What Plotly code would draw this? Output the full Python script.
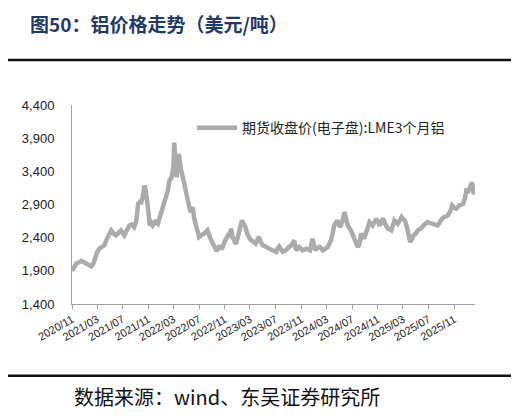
import plotly.graph_objects as go

# LME 3-month aluminium close (USD/t)
dates = [
    "2020-11-01", "2020-11-13", "2020-11-22", "2020-12-04", "2020-12-16", "2020-12-28",
    "2021-01-10", "2021-01-22", "2021-02-01", "2021-02-10", "2021-02-18", "2021-03-01",
    "2021-03-11", "2021-03-22", "2021-04-04", "2021-04-19", "2021-05-07", "2021-05-19",
    "2021-05-30", "2021-06-13", "2021-06-23", "2021-07-09", "2021-07-22", "2021-08-02",
    "2021-08-13", "2021-08-25", "2021-09-04", "2021-09-13", "2021-09-22", "2021-09-28",
    "2021-10-07", "2021-10-13", "2021-10-19", "2021-10-25", "2021-11-01", "2021-11-07",
    "2021-11-16", "2021-11-22", "2021-12-04", "2021-12-16", "2021-12-25", "2022-01-01",
    "2022-01-13", "2022-01-25", "2022-02-01", "2022-02-09", "2022-02-18", "2022-02-23",
    "2022-03-01", "2022-03-04", "2022-03-10", "2022-03-16", "2022-03-25", "2022-03-28",
    "2022-04-04", "2022-04-13", "2022-04-19", "2022-04-28", "2022-05-04", "2022-05-10",
    "2022-05-16", "2022-05-22", "2022-06-01", "2022-06-07", "2022-06-16", "2022-06-25",
    "2022-07-01", "2022-07-13", "2022-07-25", "2022-08-10", "2022-08-19", "2022-08-28",
    "2022-09-07", "2022-09-13", "2022-09-23", "2022-10-01", "2022-10-07", "2022-10-16",
    "2022-10-22", "2022-11-01", "2022-11-07", "2022-11-16", "2022-11-22", "2022-12-01",
    "2022-12-07", "2022-12-13", "2022-12-19", "2022-12-25", "2023-01-04", "2023-01-10",
    "2023-01-16", "2023-01-22", "2023-01-28", "2023-02-07", "2023-02-16", "2023-02-22",
    "2023-03-01", "2023-03-07", "2023-03-19", "2023-03-28", "2023-04-07", "2023-04-13",
    "2023-04-22", "2023-05-01", "2023-05-13", "2023-05-22", "2023-06-04", "2023-06-16",
    "2023-07-04", "2023-07-10", "2023-07-19", "2023-08-04", "2023-08-19", "2023-09-04",
    "2023-09-16", "2023-09-28", "2023-10-07", "2023-10-22", "2023-11-07", "2023-11-25",
    "2023-12-13", "2023-12-25", "2024-01-07", "2024-01-19", "2024-01-28", "2024-02-13",
    "2024-02-25", "2024-03-07", "2024-03-22", "2024-04-07", "2024-04-22", "2024-05-04",
    "2024-05-16", "2024-05-25", "2024-06-01", "2024-06-10", "2024-06-25", "2024-07-10",
    "2024-07-19", "2024-07-28", "2024-08-04", "2024-08-13", "2024-08-28", "2024-09-10",
    "2024-09-22", "2024-10-07", "2024-10-16", "2024-10-25", "2024-11-10", "2024-11-25",
    "2024-12-07", "2024-12-19", "2025-01-04", "2025-01-19", "2025-02-04", "2025-02-13",
    "2025-02-22", "2025-03-01", "2025-03-10", "2025-03-22", "2025-04-04", "2025-04-13",
    "2025-04-20", "2025-05-01", "2025-05-10", "2025-05-22", "2025-06-04", "2025-06-13",
    "2025-06-25", "2025-07-07", "2025-07-19", "2025-08-01", "2025-08-13", "2025-08-22",
    "2025-08-28", "2025-09-13", "2025-09-22", "2025-10-01", "2025-10-13", "2025-10-22",
    "2025-11-01", "2025-11-10", "2025-11-25", "2025-12-04", "2025-12-13", "2025-12-22",
    "2025-12-28", "2026-01-07", "2026-01-13", "2026-01-25", "2026-02-01", "2026-02-10",
]
prices = [
    1900, 1960, 2010, 2030, 2050, 2030,
    2010, 2000, 1970, 2000, 2085, 2180,
    2235, 2260, 2285, 2400, 2510, 2460,
    2435, 2480, 2510, 2435, 2520, 2585,
    2600, 2560, 2650, 2910, 2940, 2935,
    3050, 3185, 3120, 3010, 2800, 2585,
    2620, 2585, 2640, 2610, 2700, 2810,
    2900, 3010, 3100, 3260, 3300, 3360,
    3500, 3835, 3550, 3310, 3660, 3620,
    3450, 3360, 3250, 3110, 3000, 2935,
    2850, 2785, 2860, 2700, 2560, 2480,
    2410, 2440, 2460, 2510, 2420, 2360,
    2300, 2260, 2200, 2240, 2285, 2230,
    2260, 2350, 2385, 2430, 2410, 2535,
    2420, 2360, 2330, 2310, 2450, 2560,
    2650, 2660, 2620, 2560, 2460, 2410,
    2380, 2360, 2340, 2310, 2380, 2410,
    2330, 2285, 2270, 2260, 2230, 2210,
    2185, 2230, 2265, 2190, 2210, 2260,
    2290, 2360, 2210, 2260, 2210, 2235,
    2210, 2385, 2210, 2250, 2260, 2210,
    2230, 2260, 2360, 2585, 2660, 2560,
    2650, 2785, 2700, 2585, 2510, 2410,
    2330, 2260, 2290, 2460, 2385, 2520,
    2635, 2585, 2630, 2685, 2580, 2690,
    2600, 2535, 2510, 2660, 2610, 2650,
    2710, 2680, 2660, 2535, 2335, 2380,
    2435, 2460, 2510, 2530, 2585, 2600,
    2635, 2620, 2610, 2600, 2585, 2620,
    2660, 2710, 2720, 2735, 2800, 2885,
    2850, 2835, 2885, 2900, 2910, 3000,
    3110, 3100, 3160, 3235, 3060, 3110,
]

x_tick_vals = ["2020-11-01", "2021-03-01", "2021-07-01", "2021-11-01", "2022-03-01",
               "2022-07-01", "2022-11-01", "2023-03-01", "2023-07-01", "2023-11-01",
               "2024-03-01", "2024-07-01", "2024-11-01", "2025-03-01", "2025-07-01",
               "2025-11-01"]
x_tick_text = ["2020/11", "2021/03", "2021/07", "2021/11", "2022/03", "2022/07",
               "2022/11", "2023/03", "2023/07", "2023/11", "2024/03", "2024/07",
               "2024/11", "2025/03", "2025/07", "2025/11"]
y_tick_vals = [1400, 1900, 2400, 2900, 3400, 3900, 4400]

series_name = "期货收盘价(电子盘):LME3个月铝"
title_text = "<b>图50：铝价格走势（美元/吨）</b>"
source_text = "数据来源：wind、东吴证券研究所"

cjk = "Noto Sans CJK SC"

fig = go.Figure()
fig.add_trace(go.Scatter(x=dates, y=prices, mode="lines", name=series_name,
        line=dict(color="#ABABAB", width=4.5)))

# the page body adds an 8px offset, so the figure is sized to fit inside it
fig.update_layout(
    width=511, height=411,
    margin=dict(l=64, r=44, t=97, b=115),
    paper_bgcolor="white", plot_bgcolor="white",
    showlegend=True,
    legend=dict(x=0.298, y=0.884, xanchor="left", yanchor="middle",
            font=dict(family=cjk, size=14, color="#222222"),
            bgcolor="rgba(0,0,0,0)", itemwidth=40),
    title=dict(text=title_text, x=0.043, xanchor="left", y=0.959, yanchor="middle",
            font=dict(family=cjk, size=19, color="#1F3A68")),
    xaxis=dict(type="date", range=["2020-11-01", "2026-02-08"],
            tickvals=x_tick_vals, ticktext=x_tick_text, tickangle=-30,
            tickfont=dict(family="Liberation Sans", size=11, color="#222222"),
            showgrid=False, zeroline=False, showline=True, linecolor="#A0A0A0",
            linewidth=1, ticks="outside", ticklen=4, tickcolor="#A0A0A0"),
    yaxis=dict(range=[1400, 4400], tickvals=y_tick_vals, tickformat=",",
            tickfont=dict(family="Liberation Sans", size=13, color="#222222"),
            showgrid=False, zeroline=False, showline=True, linecolor="#A0A0A0",
            linewidth=1, ticks="", ticklabelstandoff=14),
)

# heavy rules above and below the chart, plus the source note
fig.add_shape(type="line", xref="paper", yref="paper", x0=-0.166, x1=1.094,
        y0=1.226, y1=1.226, line=dict(color="#111111", width=2.5))
fig.add_shape(type="line", xref="paper", yref="paper", x0=-0.166, x1=1.094,
        y0=-0.36, y1=-0.36, line=dict(color="#111111", width=2.5))
fig.add_annotation(text=source_text, xref="paper", yref="paper", x=0.0, y=-0.466,
        xanchor="left", yanchor="middle", showarrow=False,
        font=dict(family=cjk, size=20, color="#111111"))

fig.write_html("out.html")
